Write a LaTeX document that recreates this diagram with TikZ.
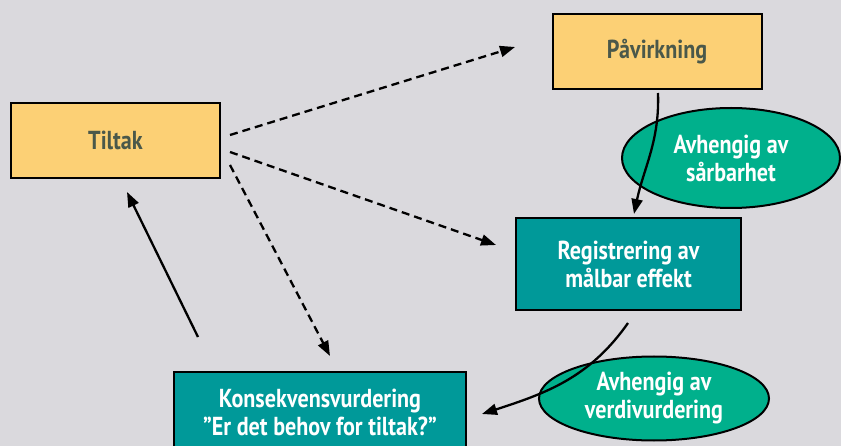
\documentclass[tikz,border=0pt]{standalone}
\usepackage{fontspec}
\setmainfont{PT Sans}[FakeStretch=0.85]
\usepackage{tikz}
\usetikzlibrary{shapes.geometric, arrows.meta}
\usepackage{xcolor}
\definecolor{bakgrunn}{RGB}{218,217,221}
\definecolor{gulboks}{RGB}{252,208,117}
\definecolor{tealboks}{RGB}{0,153,153}
\definecolor{gronnell}{RGB}{0,176,140}
\definecolor{mørktekst}{RGB}{74,88,74}
\tikzset{
  gulboks/.style={draw=black, line width=2pt, fill=gulboks, minimum width=209pt,
    minimum height=75pt, text=mørktekst, font=\fontsize{26}{28}\selectfont\bfseries},
  tealboks/.style={draw=black, line width=2pt, fill=tealboks, text=white,
    align=center, font=\fontsize{26}{28}\selectfont\bfseries},
  ellipseboks/.style={ellipse, draw=black, line width=2pt, fill=gronnell, text=white,
    align=center, inner sep=0pt, font=\fontsize{26}{28}\selectfont\bfseries},
  pil/.style={line width=2.3pt, -{Triangle[length=15pt,width=11pt]}},
  stiplet/.style={pil, dash pattern=on 8pt off 5pt}
}

\begin{document}
\begin{tikzpicture}[x=1pt, y=-1pt]
    % Bakgrunn
    \fill[bakgrunn] (0,0) rectangle (841,446);
    \useasboundingbox (0,0) rectangle (841,446);
    % Bokser
    \node[gulboks] (tiltak) at (115.5,140.5) {Tiltak};
    \node[gulboks] (pavirkning) at (657,51.5) {Påvirkning};
    \node[tealboks, minimum width=225pt, minimum height=92pt] (registrering) at (628.5,264)
      {Registrering av\\målbar effekt};
    \node[tealboks, minimum width=292pt, minimum height=80pt, anchor=north] (konsekvens) at (320,371)
      {Konsekvensvurdering\\''Er det behov for tiltak?''};
    % Ellipser
    \node[ellipseboks, minimum width=218pt, minimum height=100pt] (sarbarhet) at (731,158)
      {Avhengig av\\sårbarhet};
    \node[ellipseboks, minimum width=230pt, minimum height=84pt] (verdi) at (654,398.5)
      {Avhengig av\\verdivurdering};
    % Endepunkter for pilene
    \coordinate (t1) at (230,135);
    \coordinate (t2) at (230,152);
    \coordinate (t3) at (230,165);
    \coordinate (p1) at (515,47);
    \coordinate (r1) at (496,245);
    \coordinate (k1) at (330,356);
    \coordinate (k2) at (198,337);
    \coordinate (t4) at (127,192);
    \coordinate (pv) at (658,93);
    \coordinate (rt) at (634,214);
    \coordinate (rb) at (628,323);
    \coordinate (kr) at (482,414);
    % Stiplede piler fra tiltak
    \draw[stiplet] (t1) -- (p1);
    \draw[stiplet] (t2) -- (r1);
    \draw[stiplet] (t3) -- (k1);
    % Tilbake til tiltak
    \draw[pil] (k2) -- (t4);
    % Kurvede piler
    \draw[pil] (pv) to[out=-88, in=78] (rt);
    \draw[pil] (rb) to[out=-125, in=18] (kr);
\end{tikzpicture}
\end{document}
